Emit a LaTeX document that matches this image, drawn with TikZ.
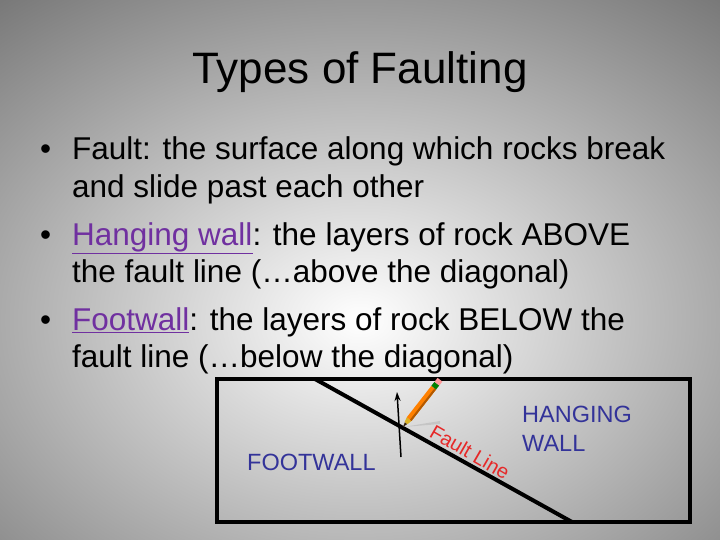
\documentclass[tikz,border=0pt]{standalone}
\usepackage{fontspec}
\setmainfont{Liberation Sans}
\usetikzlibrary{arrows.meta}
\definecolor{linkc}{RGB}{112,48,160}
\definecolor{wallc}{RGB}{51,51,153}
\definecolor{faultc}{RGB}{230,40,40}
\begin{document}
\begin{tikzpicture}[x=1pt,y=-1pt,
  bul/.style={anchor=base west,font=\fontsize{31.5}{32}\selectfont,inner sep=0},
  wall/.style={text=wallc,font=\fontsize{23.5}{29}\selectfont,inner sep=0,align=left},
  lnk/.style={text=linkc}]
\useasboundingbox (0,0) rectangle (720,540);
\shade[inner color=white,outer color=gray!75!black!90] (-250,-120) rectangle (970,760);
\node[anchor=base,font=\fontsize{44}{44}\selectfont,inner sep=0] (title) at (360,84) {Types of Faulting};
\foreach \y in {160,245,330} \node[bul] at (40,\y) {•};
\node[bul] (l1) at (72,160) {Fault: the surface along which rocks break};
\node[bul] (l2) at (72,197) {and slide past each other};
\node[bul] (l3) at (72,245) {\textcolor{linkc}{\underline{Hanging wall}}: the layers of rock ABOVE};
\node[bul] (l4) at (72,282) {the fault line (…above the diagonal)};
\node[bul] (l5) at (72,330) {\textcolor{linkc}{\underline{Footwall}}: the layers of rock BELOW the};
\node[bul] (l6) at (72,367) {fault line (…below the diagonal)};
\draw[line width=4pt] (217,379) rectangle (690,522);
\coordinate (fa) at (315,379);
\coordinate (fb) at (572,522);
\draw[line width=4pt] (fa) -- (fb);
\coordinate (ab) at (401,457);
\coordinate (at) at (397,392);
\draw[line width=1.5pt,-{Stealth[length=9pt,width=6pt]}] (ab) -- (at);
\node[wall,anchor=west] (fw) at (247,462) {FOOTWALL};
\node[wall,anchor=west] (hw) at (522,429) {HANGING\\WALL};
\node[text=faultc,font=\fontsize{20}{20}\selectfont,rotate=-30,inner sep=0] (fl) at (470,452) {Fault Line};
% pencil
\fill[gray!60,opacity=.5] (403,427) -- (440,421) -- (440,424) -- cycle;
\begin{scope}[shift={(403,427)},rotate=52]
\fill[black!70!brown] (0,0) -- (5,-1.5) -- (5,1.5) -- cycle;
\fill[brown!60!yellow] (5,-1.8) -- (10,-3) -- (10,3) -- (5,1.8) -- cycle;
\fill[orange] (10,-3) rectangle (50,3);
\fill[orange!70!black] (10,1) rectangle (50,3);
\fill[green!50!black] (50,-3) rectangle (55,3);
\fill[pink!80!red] (55,-3) rectangle (60,3);
\end{scope}
\end{tikzpicture}
\end{document}
